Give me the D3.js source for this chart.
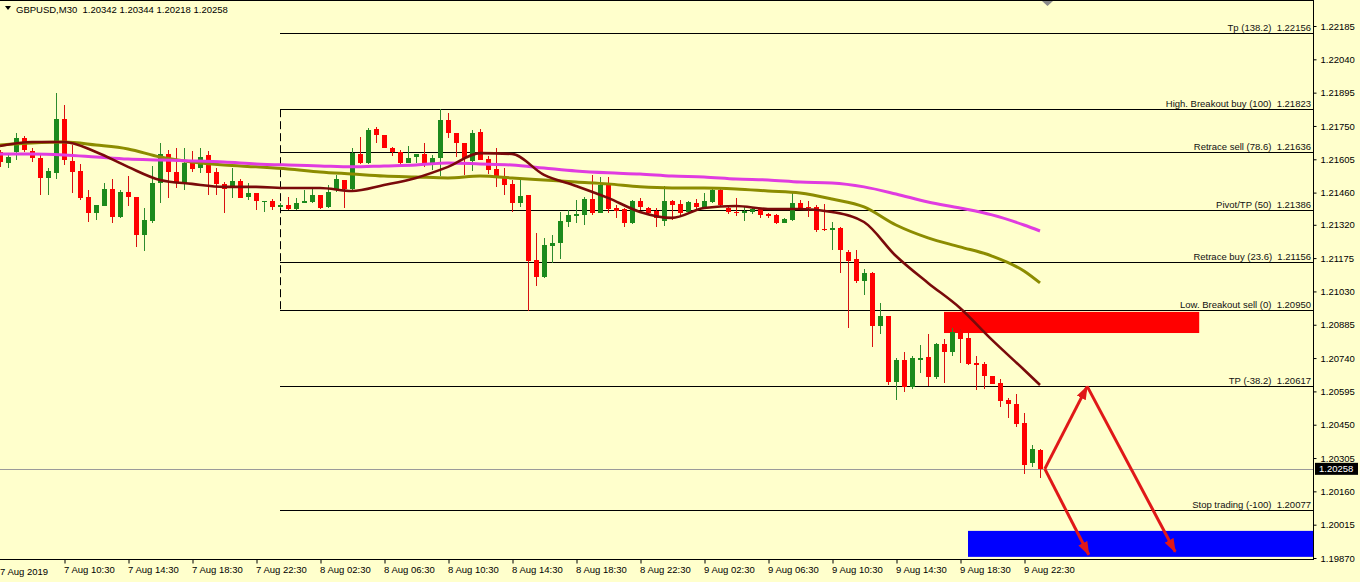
<!DOCTYPE html>
<html><head><meta charset="utf-8">
<script src="https://cdn.jsdelivr.net/npm/d3@7"></script>
<style>
html,body{margin:0;padding:0;background:#FFFFCC;overflow:hidden}
svg{display:block}
text{font-family:"Liberation Sans",Arial,sans-serif;white-space:pre}
</style>
</head><body>
<svg id="c" width="1360" height="582"></svg>
<script>
// ---------------- DATA ----------------
const symbolTitle = "GBPUSD,M30";
const startTime = "2019-08-07 06:30";
const firstDateLabel = "7 Aug 2019";

const opens = [1.21637,1.21589,1.21637,1.21698,1.21642,1.21611,1.21524,1.21546,1.21780,1.21598,
1.21554,1.21441,1.21372,1.21402,1.21476,1.21354,1.21463,1.21441,1.21276,1.21337,
1.21502,1.21628,1.21550,1.21502,1.21589,1.21567,1.21624,1.21550,1.21498,1.21485,
1.21511,1.21441,1.21458,1.21419,1.21424,1.21398,1.21406,1.21389,1.21415,1.21419,
1.21450,1.21398,1.21476,1.21515,1.21476,1.21628,1.21589,1.21737,1.21711,1.21655,
1.21637,1.21589,1.21616,1.21628,1.21585,1.21611,1.21776,1.21720,1.21676,1.21598,
1.21724,1.21606,1.21563,1.21524,1.21498,1.21415,1.21450,1.21167,1.21093,1.21228,
1.21241,1.21332,1.21359,1.21363,1.21432,1.21372,1.21493,1.21393,1.21389,1.21328,
1.21424,1.21393,1.21380,1.21337,1.21424,1.21411,1.21376,1.21415,1.21398,1.21419,
1.21472,1.21393,1.21376,1.21372,1.21376,1.21389,1.21367,1.21363,1.21328,1.21341,
1.21415,1.21398,1.21398,1.21302,1.21298,1.21306,1.21202,1.21171,1.21076,1.21110,
1.20880,1.20923,1.20636,1.20732,1.20615,1.20732,1.20745,1.20658,1.20802,1.20767,
1.20854,1.20828,1.20719,1.20715,1.20662,1.20632,1.20558,1.20541,1.20458,1.20284,
1.20342];
const highs = [1.21646,1.21633,1.21720,1.21707,1.21655,1.21624,1.21567,1.21893,1.21841,1.21667,
1.21585,1.21472,1.21406,1.21502,1.21520,1.21472,1.21532,1.21441,1.21393,1.21576,
1.21676,1.21646,1.21655,1.21655,1.21642,1.21655,1.21642,1.21567,1.21506,1.21567,
1.21520,1.21502,1.21458,1.21424,1.21432,1.21415,1.21441,1.21437,1.21472,1.21480,
1.21450,1.21493,1.21537,1.21515,1.21655,1.21702,1.21741,1.21746,1.21711,1.21659,
1.21646,1.21663,1.21628,1.21676,1.21624,1.21824,1.21806,1.21720,1.21676,1.21733,
1.21737,1.21620,1.21655,1.21567,1.21515,1.21515,1.21450,1.21285,1.21263,1.21276,
1.21376,1.21385,1.21428,1.21441,1.21537,1.21528,1.21528,1.21406,1.21393,1.21428,
1.21437,1.21398,1.21393,1.21489,1.21428,1.21428,1.21424,1.21432,1.21458,1.21480,
1.21476,1.21398,1.21437,1.21398,1.21398,1.21393,1.21372,1.21367,1.21350,1.21458,
1.21428,1.21424,1.21406,1.21411,1.21332,1.21311,1.21211,1.21211,1.21128,1.21115,
1.20980,1.20923,1.20741,1.20767,1.20749,1.20797,1.20845,1.20806,1.20823,1.20873,
1.20867,1.20850,1.20749,1.20723,1.20662,1.20649,1.20567,1.20584,1.20502,1.20362,
1.20344];
const lows = [1.21572,1.21567,1.21602,1.21637,1.21593,1.21450,1.21450,1.21520,1.21580,1.21458,
1.21428,1.21332,1.21341,1.21402,1.21328,1.21350,1.21402,1.21224,1.21206,1.21328,
1.21415,1.21437,1.21480,1.21472,1.21550,1.21546,1.21450,1.21450,1.21372,1.21437,
1.21437,1.21428,1.21385,1.21376,1.21385,1.21393,1.21385,1.21385,1.21415,1.21415,
1.21389,1.21393,1.21463,1.21393,1.21463,1.21585,1.21585,1.21676,1.21655,1.21620,
1.21585,1.21589,1.21589,1.21572,1.21559,1.21532,1.21698,1.21616,1.21537,1.21554,
1.21602,1.21541,1.21485,1.21450,1.21376,1.21398,1.20945,1.21054,1.21089,1.21154,
1.21171,1.21311,1.21328,1.21320,1.21363,1.21372,1.21372,1.21350,1.21311,1.21324,
1.21385,1.21363,1.21311,1.21315,1.21341,1.21363,1.21372,1.21389,1.21393,1.21415,
1.21402,1.21367,1.21359,1.21337,1.21367,1.21350,1.21350,1.21324,1.21328,1.21337,
1.21385,1.21354,1.21289,1.21293,1.21211,1.21110,1.20871,1.21067,1.21015,1.20789,
1.20845,1.20623,1.20558,1.20593,1.20606,1.20676,1.20619,1.20650,1.20632,1.20749,
1.20719,1.20710,1.20603,1.20606,1.20628,1.20528,1.20480,1.20441,1.20236,1.20267,
1.20218];
const closes = [1.21593,1.21616,1.21698,1.21646,1.21611,1.21524,1.21554,1.21780,1.21602,1.21550,
1.21437,1.21372,1.21406,1.21476,1.21354,1.21463,1.21441,1.21276,1.21341,1.21502,
1.21628,1.21550,1.21502,1.21589,1.21563,1.21616,1.21546,1.21498,1.21476,1.21511,
1.21437,1.21458,1.21424,1.21424,1.21398,1.21406,1.21389,1.21415,1.21424,1.21450,
1.21393,1.21463,1.21520,1.21476,1.21633,1.21589,1.21733,1.21711,1.21655,1.21637,
1.21589,1.21611,1.21628,1.21585,1.21611,1.21776,1.21720,1.21676,1.21611,1.21720,
1.21602,1.21559,1.21532,1.21493,1.21415,1.21445,1.21163,1.21093,1.21232,1.21241,
1.21337,1.21363,1.21367,1.21432,1.21372,1.21493,1.21389,1.21380,1.21328,1.21424,
1.21398,1.21372,1.21350,1.21424,1.21406,1.21372,1.21419,1.21398,1.21424,1.21472,
1.21406,1.21376,1.21372,1.21380,1.21389,1.21363,1.21359,1.21328,1.21346,1.21415,
1.21393,1.21393,1.21298,1.21298,1.21306,1.21211,1.21163,1.21076,1.21110,1.20880,
1.20923,1.20636,1.20732,1.20615,1.20741,1.20741,1.20658,1.20802,1.20767,1.20854,
1.20823,1.20715,1.20710,1.20662,1.20628,1.20554,1.20541,1.20454,1.20275,1.20345,
1.20258];

// moving averages, read at these bar numbers
const maBars = [0,4,8,12,16,20,24,28,32,36,40,44,48,52,56,60,64,68,72,76,80,84,88,92,96,100,104,108,112,116,120,124,128,130];
const maMagenta = [1.21628,1.21628,1.21624,1.21615,1.21606,1.21602,1.21598,1.21593,1.21585,1.21580,1.21576,1.21572,1.21576,1.21580,1.21589,1.21585,1.21580,1.21567,1.21554,1.21546,1.21541,1.21532,1.21528,1.21519,1.21515,1.21506,1.21502,1.21485,1.21454,1.21419,1.21393,1.21363,1.21319,1.21293];
const maOlive = [1.21667,1.21676,1.21680,1.21667,1.21650,1.21615,1.21593,1.21580,1.21572,1.21563,1.21550,1.21541,1.21532,1.21528,1.21524,1.21532,1.21524,1.21515,1.21506,1.21498,1.21485,1.21480,1.21480,1.21476,1.21467,1.21458,1.21432,1.21398,1.21319,1.21263,1.21224,1.21184,1.21119,1.21067];
const maMaroon = [1.21663,1.21680,1.21680,1.21637,1.21572,1.21515,1.21498,1.21485,1.21485,1.21480,1.21480,1.21467,1.21493,1.21524,1.21572,1.21632,1.21628,1.21537,1.21489,1.21437,1.21376,1.21350,1.21393,1.21402,1.21389,1.21389,1.21376,1.21332,1.21184,1.21067,1.20958,1.20819,1.20689,1.20623];

const priceTicks = [1.22185,1.22040,1.21895,1.21750,1.21605,1.21460,1.21320,1.21175,1.21030,1.20885,1.20740,1.20595,1.20450,1.20305,1.20160,1.20015,1.19870];
const timeTicks = ["7 Aug 10:30","7 Aug 14:30","7 Aug 18:30","7 Aug 22:30","8 Aug 02:30","8 Aug 06:30","8 Aug 10:30","8 Aug 14:30","8 Aug 18:30","8 Aug 22:30","9 Aug 02:30","9 Aug 06:30","9 Aug 10:30","9 Aug 14:30","9 Aug 18:30","9 Aug 22:30"];

const levelNames = ["Tp (138.2)","High. Breakout buy (100)","Retrace sell (78.6)","Pivot/TP (50)","Retrace buy (23.6)","Low. Breakout sell (0)","TP (-38.2)","Stop trading (-100)"];
const levelValues = [1.22156,1.21823,1.21636,1.21386,1.21156,1.20950,1.20617,1.20077];
const levelStartBar = 35;

const sellZonePrices = [1.20941,1.20849];
const sellZoneBars = [118,149.9];
const targetZonePrices = [1.19988,1.19875];
const targetZoneBars = [121,170];

const arrowUpBars = [130.6,135.9];   const arrowUpPrices = [1.20258,1.20617];
const arrowDownBars = [135.9,146.9]; const arrowDownPrices = [1.20617,1.19897];
const arrowDirectBars = [130.6,136.1]; const arrowDirectPrices = [1.20258,1.19884];

// ---------------- LAYOUT ----------------
const W = 1360, H = 582;
const axisX = 1313, axisY = 559, barStep = 8;
const svg = d3.select("#c");
svg.append("rect").attr("width",W).attr("height",H).attr("fill","#FFFFCC");

const t0 = d3.timeParse("%Y-%m-%d %H:%M")(startTime);
const barTime = b => new Date(t0.getTime() + b*30*60*1000);
const n = closes.length;
const x = d3.scaleTime().domain([barTime(0), barTime(n-1)]).range([0, barStep*(n-1)]);
const xb = b => x(barTime(b));
const y = d3.scaleLinear().domain([d3.min(priceTicks), d3.max(priceTicks)]).range([558, 26]);

const plot = svg.append("g");
svg.append("clipPath").attr("id","pc").append("rect").attr("x",0).attr("y",1).attr("width",axisX).attr("height",axisY-1);
plot.attr("clip-path","url(#pc)");

// bid line
plot.append("line").attr("x1",0).attr("x2",axisX)
  .attr("y1",Math.round(y(closes[n-1]))+0.5).attr("y2",Math.round(y(closes[n-1]))+0.5)
  .attr("stroke","#9a9a9a").attr("stroke-width",1);

// zones
plot.append("rect").attr("x",xb(sellZoneBars[0])).attr("width",xb(sellZoneBars[1])-xb(sellZoneBars[0]))
  .attr("y",y(sellZonePrices[0])).attr("height",y(sellZonePrices[1])-y(sellZonePrices[0])).attr("fill","#FF0000");
plot.append("rect").attr("x",xb(targetZoneBars[0])).attr("width",xb(targetZoneBars[1])-xb(targetZoneBars[0]))
  .attr("y",y(targetZonePrices[0])).attr("height",y(targetZonePrices[1])-y(targetZonePrices[0])).attr("fill","#0000FF");

// fibo levels
const lv = plot.append("g");
levelValues.forEach((v,i)=>{
  const yy = Math.round(y(v))+0.5;
  lv.append("line").attr("x1",xb(levelStartBar)).attr("x2",axisX).attr("y1",yy).attr("y2",yy)
    .attr("stroke","#000").attr("stroke-width",1);
  lv.append("text").attr("x",axisX-2).attr("y",yy-2.5).attr("text-anchor","end")
    .attr("font-size","9.5px").attr("fill","#111").text(levelNames[i]+"  "+v.toFixed(5));
});
lv.append("line").attr("x1",xb(levelStartBar)+0.5).attr("x2",xb(levelStartBar)+0.5)
  .attr("y1",y(d3.max(levelValues.slice(1)))).attr("y2",y(levelValues[5]))
  .attr("stroke","#000").attr("stroke-width",1).attr("stroke-dasharray","8,4");

// candles
const cg = plot.append("g").attr("shape-rendering","crispEdges");
for (let i=0;i<n;i++){
  const cx = Math.round(xb(i));
  const up = closes[i] >= opens[i];
  const col = up ? "#1C8A1C" : "#FF0000";
  const wcol = up ? "#2E8B2E" : "#D81010";
  cg.append("line").attr("x1",cx+0.5).attr("x2",cx+0.5)
    .attr("y1",y(highs[i])).attr("y2",y(lows[i])).attr("stroke",wcol).attr("stroke-width",1);
  const top = y(Math.max(opens[i],closes[i])), bot = y(Math.min(opens[i],closes[i]));
  cg.append("rect").attr("x",cx-2).attr("width",5).attr("y",top).attr("height",Math.max(1.5,bot-top)).attr("fill",col);
}

// moving averages
const maLine = arr => d3.line().x((d,i)=>xb(maBars[i])).y(d=>y(d)).curve(d3.curveMonotoneX)(arr);
plot.append("path").attr("d",maLine(maOlive)).attr("fill","none").attr("stroke","#8C8C00").attr("stroke-width",3);
plot.append("path").attr("d",maLine(maMagenta)).attr("fill","none").attr("stroke","#E03CE0").attr("stroke-width",3);
plot.append("path").attr("d",maLine(maMaroon)).attr("fill","none").attr("stroke","#7A0A0A").attr("stroke-width",2.6);

// arrows
const defs = svg.append("defs");
defs.append("marker").attr("id","ah").attr("viewBox","0 0 14 10").attr("refX",13).attr("refY",5)
  .attr("markerWidth",14).attr("markerHeight",10).attr("markerUnits","userSpaceOnUse").attr("orient","auto")
  .append("path").attr("d","M0,0 L14,5 L0,10 Z").attr("fill","#E01818");
function arrow(bars, prices){
  plot.append("line").attr("x1",xb(bars[0])).attr("y1",y(prices[0])).attr("x2",xb(bars[1])).attr("y2",y(prices[1]))
    .attr("stroke","#E01818").attr("stroke-width",3).attr("marker-end","url(#ah)");
}
arrow(arrowUpBars, arrowUpPrices);
arrow(arrowDownBars, arrowDownPrices);
arrow(arrowDirectBars, arrowDirectPrices);

// frame
svg.append("line").attr("x1",0).attr("x2",axisX).attr("y1",0.5).attr("y2",0.5).attr("stroke","#000");
svg.append("line").attr("x1",axisX+0.5).attr("x2",axisX+0.5).attr("y1",0).attr("y2",axisY+1).attr("stroke","#000");
svg.append("line").attr("x1",0).attr("x2",axisX+1).attr("y1",axisY+0.5).attr("y2",axisY+0.5).attr("stroke","#000");

// price axis
const ya = svg.append("g").attr("transform",`translate(${axisX+0.5},0)`)
  .call(d3.axisRight(y).tickValues(priceTicks).tickFormat(d3.format(".5f")).tickSize(3).tickPadding(4));
ya.select(".domain").remove();
ya.selectAll("text").attr("font-family","Liberation Sans").attr("font-size","9.5px").attr("fill","#000");
ya.selectAll("line").attr("stroke","#000");

// current price label
const yc = y(closes[n-1]);
svg.append("rect").attr("x",axisX+2).attr("y",yc-6).attr("width",43).attr("height",12).attr("fill","#000");
svg.append("text").attr("x",axisX+6).attr("y",yc+3.5).attr("font-size","9.5px").attr("fill","#fff").text(closes[n-1].toFixed(5));

// time axis
const parseT = d3.timeParse("%d %b %Y %H:%M");
const tickDates = timeTicks.map(s=>{const p=s.split(" "); return parseT(`${p[0]} ${p[1]} 2019 ${p[2]}`);});
const xa = svg.append("g").attr("transform",`translate(0.5,${axisY+0.5})`)
  .call(d3.axisBottom(x).tickValues(tickDates).tickFormat((d,i)=>timeTicks[i]).tickSize(4).tickPadding(3));
xa.select(".domain").remove();
xa.selectAll("text").attr("font-family","Liberation Sans").attr("font-size","9.5px").attr("fill","#000")
  .attr("text-anchor","start").attr("x",-1);
xa.selectAll("line").attr("stroke","#000");
svg.append("text").attr("x",0).attr("y",axisY+15.5).attr("font-size","9.5px").attr("fill","#000").text(firstDateLabel);

// header
svg.append("path").attr("d","M5,6 L11,6 L8,10 Z").attr("fill","#000");
svg.append("text").attr("x",16).attr("y",12.5).attr("font-size","9.5px").attr("fill","#000")
  .text(`${symbolTitle}  ${opens[n-1].toFixed(5)} ${highs[n-1].toFixed(5)} ${lows[n-1].toFixed(5)} ${closes[n-1].toFixed(5)}`);
// shift marker
svg.append("path").attr("d","M1042,1 L1053,1 L1047.5,6 Z").attr("fill","#8a8a8a");
</script>
</body></html>
